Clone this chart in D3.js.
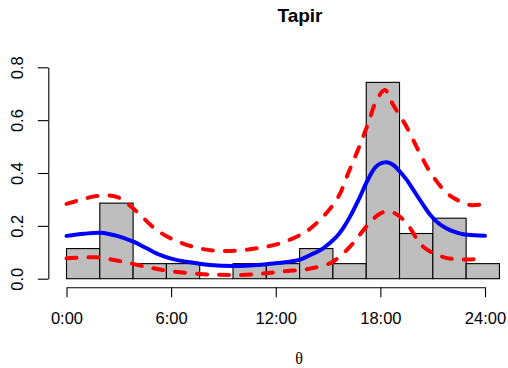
<!DOCTYPE html>
<html>
<head>
<meta charset="utf-8">
<script src="https://cdn.jsdelivr.net/npm/d3@7"></script>
<style>
  body { margin: 0; background: #fff; }
  svg { display: block; }
  text { font-family: "Liberation Sans", Arial, Helvetica, sans-serif; fill: #000; }
</style>
</head>
<body>
<svg id="chart" width="508" height="368"></svg>
<script>
// ---- data ----
const titleText = "Tapir";
const xLabel = "θ";
// histogram breaks (radians) and densities
const binBreaksRad = [0, 0.5, 1, 1.5, 2, 2.5, 3, 3.5, 4, 4.5, 5, 5.5, 6, 6.5];
const binDensity = [0.114, 0.286, 0.057, 0.057, 0, 0.057, 0.057, 0.114, 0.057, 0.743, 0.171, 0.229, 0.057];
// fitted density (hours -> density)
const fitHours = [0, 1.0, 1.92, 2.9, 3.83, 4.6, 5.36, 6.1, 6.89, 8.23, 9.55, 10.5, 11.48, 12.5, 13.4, 13.96, 14.72, 15.49, 15.9, 16.26, 16.83, 17.21, 17.69, 18.0, 18.36, 18.7, 19.03, 19.5, 19.89, 20.4, 20.84, 21.3, 21.8, 22.3, 22.75, 23.4, 24];
const fitDens  = [0.162, 0.170, 0.174, 0.162, 0.140, 0.115, 0.090, 0.074, 0.064, 0.052, 0.048, 0.050, 0.055, 0.062, 0.072, 0.089, 0.115, 0.159, 0.195, 0.235, 0.310, 0.365, 0.420, 0.436, 0.441, 0.432, 0.412, 0.375, 0.336, 0.285, 0.243, 0.212, 0.190, 0.176, 0.168, 0.164, 0.163];
// upper confidence band
const upHours = [0, 0.9, 1.73, 2.88, 4.03, 5.17, 6.41, 7.84, 9.38, 10.9, 12.24, 13.68, 14.72, 15.59, 16.16, 16.73, 17.3, 17.79, 18.26, 18.74, 19.5, 20.17, 20.84, 21.8, 22.5, 23.14, 24];
const upDens  = [0.283, 0.300, 0.313, 0.310, 0.254, 0.184, 0.140, 0.112, 0.105, 0.115, 0.134, 0.176, 0.235, 0.310, 0.400, 0.490, 0.588, 0.676, 0.714, 0.657, 0.575, 0.487, 0.405, 0.325, 0.295, 0.279, 0.283];
// lower confidence band
const loHours = [0, 0.9, 1.73, 3.26, 4.69, 6.12, 7.84, 9.38, 10.9, 12.24, 13.77, 15.1, 15.6, 16.26, 16.8, 17.3, 17.9, 18.36, 18.9, 19.5, 20.46, 21.7, 23.23, 24];
const loDens  = [0.077, 0.080, 0.081, 0.064, 0.043, 0.027, 0.017, 0.014, 0.017, 0.027, 0.036, 0.058, 0.080, 0.121, 0.165, 0.205, 0.243, 0.254, 0.245, 0.210, 0.121, 0.080, 0.073, 0.077];
// axis ticks
const xTickHours = [0, 6, 12, 18, 24];
const xTickLabels = ["0:00", "6:00", "12:00", "18:00", "24:00"];
const yTicks = [0, 0.2, 0.4, 0.6, 0.8];
const yTickLabels = ["0.0", "0.2", "0.4", "0.6", "0.8"];

// ---- scales ----
const svg = d3.select("#chart");
const x = d3.scaleLinear().domain([0, 24]).range([66.5, 485]);
const xr = d3.scaleLinear().domain([0, 2 * Math.PI]).range([66.5, 485]);
const y = d3.scaleLinear().domain([0, 0.8]).range([278.7, 67.3]);

// ---- histogram ----
const bins = binDensity.map((d, i) => ({ x0: binBreaksRad[i], x1: binBreaksRad[i + 1], d }));
svg.append("g").selectAll("rect").data(bins.filter(b => b.d > 0)).join("rect")
  .attr("x", b => xr(b.x0))
  .attr("y", b => y(b.d))
  .attr("width", b => xr(b.x1) - xr(b.x0))
  .attr("height", b => y(0) - y(b.d))
  .attr("fill", "#BEBEBE")
  .attr("stroke", "#000")
  .attr("stroke-width", 1.1);
// baseline segment under empty bin(s)
svg.append("g").selectAll("line").data(bins.filter(b => b.d === 0)).join("line")
  .attr("x1", b => xr(b.x0)).attr("x2", b => xr(b.x1))
  .attr("y1", y(0)).attr("y2", y(0))
  .attr("stroke", "#000").attr("stroke-width", 1.1);

// ---- curves ----
const line = d3.line().x(d => x(d[0])).y(d => y(d[1])).curve(d3.curveCatmullRom.alpha(0.5));
const zip = (a, b) => a.map((v, i) => [v, b[i]]);
svg.append("path").datum(zip(upHours, upDens)).attr("d", line)
  .attr("fill", "none").attr("stroke", "#FF0000").attr("stroke-width", 4)
  .attr("stroke-dasharray", "10,12").attr("stroke-linecap", "round");
svg.append("path").datum(zip(loHours, loDens)).attr("d", line)
  .attr("fill", "none").attr("stroke", "#FF0000").attr("stroke-width", 4)
  .attr("stroke-dasharray", "10,12").attr("stroke-linecap", "round");
svg.append("path").datum(zip(fitHours, fitDens)).attr("d", line)
  .attr("fill", "none").attr("stroke", "#0000FF").attr("stroke-width", 4)
  .attr("stroke-linecap", "round");

// ---- axes ----
const xAxis = svg.append("g").attr("transform", "translate(0,287.3)")
  .call(d3.axisBottom(x).tickValues(xTickHours).tickFormat((d, i) => xTickLabels[i])
    .tickSize(10).tickSizeOuter(0).tickPadding(15));
xAxis.selectAll("text").style("font-size", "16.5px")
  .style("font-family", "'Liberation Sans', Arial, sans-serif");

const yAxis = svg.append("g").attr("transform", "translate(48.3,0)")
  .call(d3.axisLeft(y).tickValues(yTicks).tickSize(10.5).tickSizeOuter(0));
yAxis.selectAll("text").remove();
yAxis.selectAll(".tick").append("text")
  .attr("transform", "translate(-25.6,0) rotate(-90)")
  .attr("text-anchor", "middle")
  .attr("fill", "#000")
  .style("font-size", "16.5px")
  .style("font-family", "'Liberation Sans', Arial, sans-serif")
  .text((d, i) => yTickLabels[i]);
svg.selectAll(".domain, .tick line").attr("stroke", "#000").attr("stroke-width", 1.1);

// ---- titles ----
svg.append("text").attr("x", 300).attr("y", 22).attr("text-anchor", "middle")
  .style("font-size", "19px").style("font-weight", "bold").text(titleText);
svg.append("text").attr("x", 299).attr("y", 364).attr("text-anchor", "middle")
  .style("font-size", "16px").style("font-family", "'Liberation Serif', 'DejaVu Serif', serif")
  .text(xLabel);
</script>
</body>
</html>
